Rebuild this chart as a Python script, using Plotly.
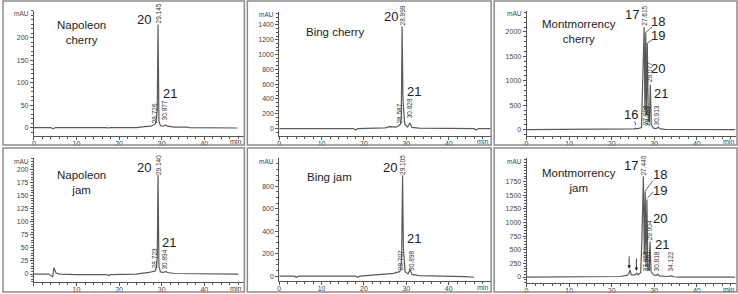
import plotly.graph_objects as go

W, H = 738, 294

# ---------------- data ----------------
# Napoleon cherry
nc_time = [0, 4.0, 4.5, 5.0, 17, 17.5, 18, 24, 26, 27.5, 28.5, 28.726, 28.95, 29.145, 29.35, 29.7, 30.4, 30.877, 31.4, 33, 36, 36.5, 47.8]
nc_abs = [0, 0, -3, 0, 0, -1, 0, 0, 2, 3, 8, 18, 40, 230, 15, 4, 3, 6, 3, 1, 1, 0, -1]
nc_rt = ["29.145", "28.726", "30.877"]

# Bing cherry
bc_time = [0, 3.5, 4, 4.5, 17.5, 18, 18.5, 25, 26, 27.5, 28.3, 28.587, 28.8, 28.999, 29.2, 29.6, 30.3, 30.828, 31.3, 33, 46, 46.5, 47, 50]
bc_abs = [0, 0, -10, 0, 0, -20, 0, 10, 25, 20, 40, 60, 150, 1380, 400, 60, 20, 75, 15, 5, 0, -20, 0, 0]
bc_rt = ["28.999", "28.587", "30.828"]

# Montmorrency cherry
mc_time = [0, 22, 24, 25.3, 25.6, 26, 27.0, 27.3, 27.615, 27.8, 27.998, 28.15, 28.364, 28.6, 28.85, 29.077, 29.3, 29.8, 30.5, 30.913, 31.3, 32.5, 49]
mc_abs = [0, 0, 10, 15, 30, 15, 40, 900, 2100, 400, 1990, 300, 1770, 200, 150, 920, 100, 30, 20, 50, 20, 5, 0]
mc_rt = ["27.615", "29.077", "27.998", "28.364", "30.913"]

# Napoleon jam
nj_time = [0, 3.5, 4.0, 4.4, 4.7, 5.2, 6, 10, 17, 17.5, 18, 24, 27, 28.5, 28.723, 28.95, 29.140, 29.35, 29.7, 30.4, 30.894, 31.4, 33, 36, 36.5, 48]
nj_abs = [0, 0, -3, -6, 12, 2, 0, -1, -1, -3, -1, 0, 3, 6, 12, 30, 190, 15, 4, 3, 5, 3, 1, 1, 0, 0]
nj_rt = ["29.140", "28.723", "30.894"]

# Bing jam
bj_time = [0, 3.5, 4, 4.5, 18, 18.5, 19, 25, 27, 28.4, 28.707, 28.9, 29.105, 29.3, 29.7, 30.4, 30.898, 31.3, 33, 44, 46]
bj_abs = [0, 0, -10, 0, 0, -10, 0, 15, 25, 40, 60, 200, 900, 250, 40, 20, 60, 15, 5, -5, -10]
bj_rt = ["29.105", "28.707", "30.898"]

# Montmorrency jam
mj_time = [0, 20, 22, 23.5, 24.0, 24.3, 24.6, 25.5, 25.9, 26.2, 26.8, 27.1, 27.440, 27.65, 27.87, 28.05, 28.261, 28.5, 28.8, 29.004, 29.25, 29.8, 30.4, 30.818, 31.2, 33, 33.8, 34.122, 34.5, 36, 49]
mj_abs = [0, 0, 10, 30, 60, 130, 40, 40, 70, 40, 80, 700, 1840, 400, 1570, 200, 1420, 150, 120, 650, 100, 40, 25, 55, 20, 10, 10, 20, 5, 0, 0]
mj_rt = ["27.440", "29.004", "27.857", "28.261", "30.818", "34.122"]

x_ticks = [0, 10, 20, 30, 40]

# ---------------- layout helpers ----------------
def fx(px):
    return px / W

def fy(py):
    return 1 - py / H

LINE = "#555555"
TXT = "#444444"
FONT = "Liberation Sans, Arial, sans-serif"

panels = [
    dict(name="Napoleon<br>cherry", t=nc_time, a=nc_abs, xd=(32, 243), yd=(11, 136), xr=(0, 49.4), yr=(-17.8, 260),
         yt=[0, 50, 100, 150, 200], ym=10, xtt=["0", "10", "20", "30", "40"], namepos=(11.2, 211),
         nums=[("20", 25.8, 242), ("21", 31.9, 75)],
         rts=[(nc_rt[0], 29.145, 230), (nc_rt[1], 28.4, 7), (nc_rt[2], 30.7, 13)],
         lines=[], arrows=[], left=1, right=243, top=1),
    dict(name="Bing cherry", t=bc_time, a=bc_abs, xd=(278, 490), yd=(12, 136), xr=(0, 49.9), yr=(-94, 1575),
         yt=[0, 200, 400, 600, 800, 1000, 1200, 1400], ym=50, xtt=["0", "10", "20", "30", "40"], namepos=(13.2, 1305),
         nums=[("20", 26.4, 1507), ("21", 31.8, 498)],
         rts=[(bc_rt[0], 29.1, 1373), (bc_rt[1], 28.5, 54), (bc_rt[2], 30.8, 121)],
         lines=[], arrows=[], left=246, right=490.5, top=1),
    dict(name="Montmorrency<br>cherry", t=mc_time, a=mc_abs, xd=(526, 736), yd=(11, 136), xr=(0, 49.2), yr=(-122, 2429),
         yt=[0, 500, 1000, 1500, 2000], ym=100, xtt=["0", "10", "20", "30", "40"], namepos=(12.2, 2000),
         nums=[("17", 24.8, 2347), ("18", 30.9, 2210), ("19", 30.9, 1920), ("20", 30.9, 1245), ("21", 31.6, 735), ("16", 24.6, 306)],
         rts=[(mc_rt[0], 27.5, 2100), (mc_rt[1], 28.85, 959), (mc_rt[2], 27.95, 61), (mc_rt[3], 28.4, 61), (mc_rt[4], 30.6, 61)],
         lines=[(29.5, 2102, 28.0, 1990), (29.5, 1837, 28.36, 1770), (25.4, 170, 25.7, 80)], arrows=[],
         left=493.5, right=737, top=1),
    dict(name="Napoleon<br>jam", t=nj_time, a=nj_abs, xd=(32, 243), yd=(159, 283), xr=(0, 49.4), yr=(-15.3, 221),
         yt=[0, 25, 50, 75, 100, 125, 150, 175, 200], ym=5, xtt=["", "10", "20", "30", "40"], namepos=(11.2, 175),
         nums=[("20", 25.8, 204), ("21", 31.6, 61)],
         rts=[(nj_rt[0], 29.1, 187), (nj_rt[1], 28.3, 10), (nj_rt[2], 30.7, 6)],
         lines=[], arrows=[], left=1, right=243, top=148.5),
    dict(name="Bing jam", t=bj_time, a=bj_abs, xd=(278, 490), yd=(159, 282), xr=(0, 49.9), yr=(-44, 1049),
         yt=[0, 200, 400, 600, 800], ym=50, xtt=["0", "10", "20", "30", "40"], namepos=(11.8, 880),
         nums=[("20", 26.1, 969), ("21", 31.8, 338)],
         rts=[(bj_rt[0], 29.1, 889), (bj_rt[1], 28.5, 44), (bj_rt[2], 31.0, 36)],
         lines=[], arrows=[], left=246, right=490.5, top=148.5),
    dict(name="Montmorrency<br>jam", t=mj_time, a=mj_abs, xd=(526, 736), yd=(159, 284), xr=(0, 49.2), yr=(-110, 2172),
         yt=[0, 250, 500, 750, 1000, 1250, 1500, 1750], ym=50, xtt=["0", "10", "20", "30", "40"], namepos=(12.4, 1770),
         nums=[("17", 24.6, 2044), ("18", 31.4, 1870), ("19", 31.4, 1585), ("20", 31.4, 1077), ("21", 31.9, 602)],
         rts=[(mj_rt[0], 27.4, 1843), (mj_rt[1], 28.8, 657), (mj_rt[2], 27.9, 91), (mj_rt[3], 28.3, 91), (mj_rt[4], 30.5, 91), (mj_rt[5], 33.8, 91)],
         lines=[(29.7, 1770, 27.9, 1580), (29.8, 1560, 28.3, 1440)], arrows=[(24.1, 150), (25.8, 110)],
         left=493.5, right=737, top=148.5),
]

fig = go.Figure()
layout = dict(width=W, height=H, margin=dict(l=0, r=0, t=0, b=0), paper_bgcolor="white",
              plot_bgcolor="rgba(0,0,0,0)", showlegend=False, font=dict(family=FONT))
annotations = []
shapes = []

for i, p in enumerate(panels, start=1):
    xa = "xaxis" if i == 1 else f"xaxis{i}"
    ya = "yaxis" if i == 1 else f"yaxis{i}"
    xr_ = "x" if i == 1 else f"x{i}"
    yr_ = "y" if i == 1 else f"y{i}"
    fig.add_trace(go.Scatter(x=p["t"], y=p["a"], mode="lines", line=dict(color="#5a5a5a", width=1.2),
                             xaxis=xr_, yaxis=yr_, hoverinfo="skip"))
    layout[xa] = dict(domain=[fx(p["xd"][0]), fx(p["xd"][1])], range=list(p["xr"]), anchor=yr_,
                      showline=True, linecolor=LINE, linewidth=1, ticks="outside", ticklen=3, tickcolor=LINE,
                      tickvals=x_ticks, ticktext=p["xtt"], tickfont=dict(size=7, color=TXT, family=FONT),
                      ticklabelstandoff=-2,
                      minor=dict(ticks="outside", ticklen=2, dtick=2, tickcolor=LINE),
                      showgrid=False, zeroline=False)
    layout[ya] = dict(domain=[fy(p["yd"][1]), fy(p["yd"][0])], range=list(p["yr"]), anchor=xr_,
                      showline=True, linecolor=LINE, linewidth=1, ticks="outside", ticklen=3, tickcolor=LINE,
                      tickvals=p["yt"], tickfont=dict(size=7, color=TXT, family=FONT),
                      minor=dict(ticks="outside", ticklen=2, dtick=p["ym"], tickcolor=LINE),
                      showgrid=False, zeroline=False)
    # panel border
    shapes.append(dict(type="rect", xref="paper", yref="paper",
                       x0=fx(p["left"]), x1=fx(p["right"]),
                       y0=fy(p["top"] + 144.5), y1=fy(p["top"]),
                       line=dict(color="#8c8c8c", width=1.5)))
    # mAU and min
    annotations.append(dict(text="mAU", xref="paper", yref="paper", x=fx(p["xd"][0] - 3), y=fy(p["yd"][0] + 3),
                            xanchor="right", yanchor="middle", showarrow=False,
                            font=dict(size=6.5, color=TXT, family=FONT)))
    annotations.append(dict(text="min", xref="paper", yref="paper", x=fx(p["right"] - 1), y=fy(p["yd"][1] + 6),
                            xanchor="right", yanchor="middle", showarrow=False,
                            font=dict(size=7, color=TXT, family=FONT)))
    # sample name
    annotations.append(dict(text=p["name"], xref=xr_, yref=yr_, x=p["namepos"][0], y=p["namepos"][1],
                            xanchor="center", yanchor="middle", showarrow=False, align="center",
                            font=dict(size=11.5, color="#222222", family=FONT)))
    # compound numbers
    for txt, xx, yy in p["nums"]:
        annotations.append(dict(text=txt, xref=xr_, yref=yr_, x=xx, y=yy, xanchor="center", yanchor="middle",
                                showarrow=False, borderpad=0, font=dict(size=13, color="#222222", family=FONT)))
    # retention time labels
    for txt, xx, yy in p["rts"]:
        annotations.append(dict(text=txt, xref=xr_, yref=yr_, x=xx, y=yy, xanchor="center", yanchor="bottom",
                                textangle=-90, showarrow=False, borderpad=0,
                                font=dict(size=6.5, color="#333333", family=FONT)))
    for (a, b, c, d) in p["lines"]:
        shapes.append(dict(type="line", xref=xr_, yref=yr_, x0=a, y0=b, x1=c, y1=d,
                           line=dict(color="#444444", width=0.8)))
    for (xx, yy) in p["arrows"]:
        annotations.append(dict(text="", xref=xr_, yref=yr_, x=xx, y=yy, ax=0, ay=-14,
                                showarrow=True, arrowhead=2, arrowsize=0.8, arrowwidth=0.9, arrowcolor="#222222"))

layout["annotations"] = annotations
layout["shapes"] = shapes
fig.update_layout(**layout)
fig.write_html("out.html", config={"displayModeBar": False},
               post_script="document.body.style.margin='0px';document.body.style.padding='0px';")
